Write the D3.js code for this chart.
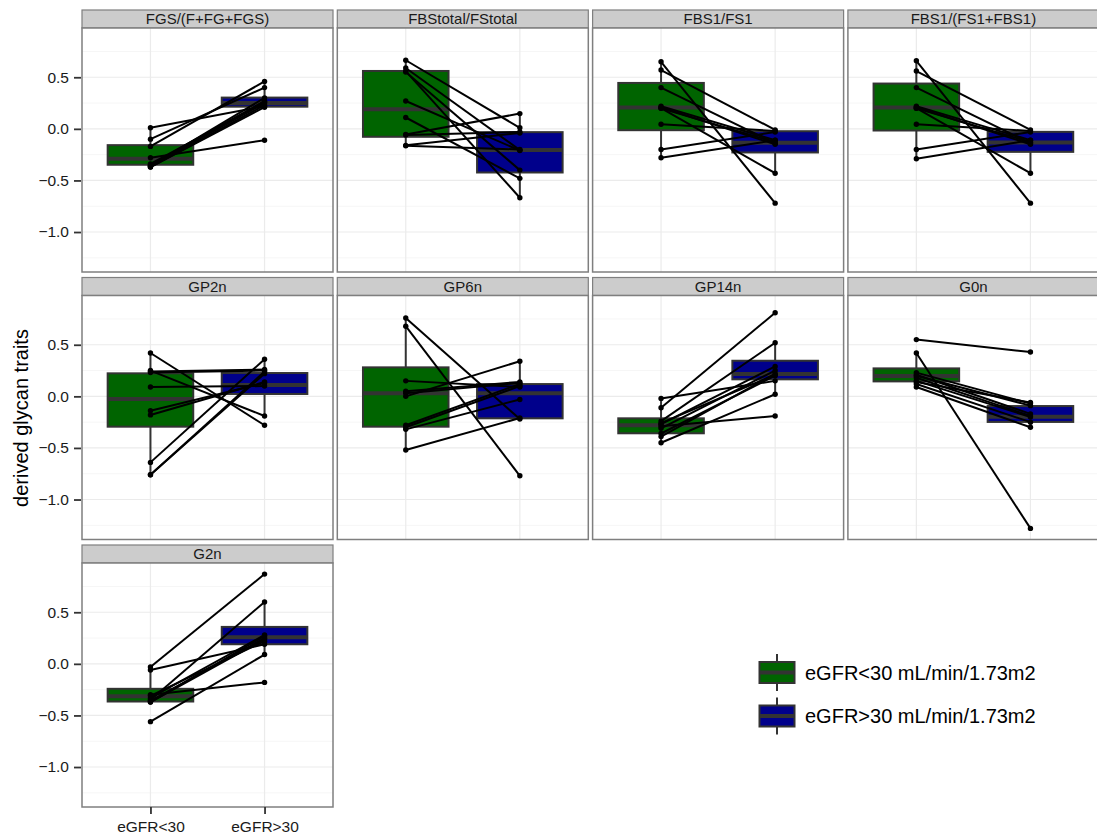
<!DOCTYPE html>
<meta charset="utf-8">

<!-- Load d3.js -->
<script src="https://cdn.jsdelivr.net/npm/d3@7"></script>

<style>
  body { margin: 0; background: #fff; }
  text { font-family: "Liberation Sans", Arial, Helvetica, sans-serif; }
</style>

<!-- Create a div where the graph will take place -->
<div id="my_dataviz"></div>

<script>

// facet names, groups, legend
var traits = ["FGS/(F+FG+FGS)", "FBStotal/FStotal", "FBS1/FS1", "FBS1/(FS1+FBS1)",
              "GP2n", "GP6n", "GP14n", "G0n", "G2n"];
var groups = ["eGFR<30", "eGFR>30"];
var legendLabels = ["eGFR<30 mL/min/1.73m2", "eGFR>30 mL/min/1.73m2"];
var groupColors = ["#006400", "#00008b"];
var yTicks = [-1.0, -0.5, 0.0, 0.5];
var yMinorTicks = [-1.25, -0.75, -0.25, 0.25, 0.75];
var yTitle = "derived glycan traits";

// paired values, one row per trait, one entry per patient
var lowValues = [
  [0.01, -0.10, -0.17, -0.28, -0.35, -0.36, -0.37, -0.37, -0.36, -0.34],
  [0.665, 0.59, 0.56, 0.55, 0.27, 0.11, -0.055, -0.16, -0.165, -0.06],
  [0.65, 0.57, 0.40, 0.22, 0.20, 0.21, 0.045, -0.20, -0.28, 0.20],
  [0.66, 0.56, 0.40, 0.22, 0.20, 0.21, 0.045, -0.20, -0.29, 0.20],
  [0.42, 0.25, 0.23, 0.09, -0.14, -0.18, -0.64, -0.76, -0.76, 0.24],
  [0.76, 0.68, 0.15, 0.05, 0.00, -0.28, -0.32, -0.52, -0.30, 0.03],
  [-0.02, -0.11, -0.24, -0.29, -0.27, -0.31, -0.39, -0.45, -0.36, -0.26],
  [0.55, 0.42, 0.23, 0.20, 0.18, 0.15, 0.12, 0.09, 0.21, 0.14],
  [-0.03, -0.06, -0.30, -0.35, -0.56, -0.37, -0.36, -0.31, -0.37, -0.33]
];
var highValues = [
  [0.22, 0.40, 0.46, -0.11, 0.27, 0.25, 0.21, 0.23, 0.30, 0.26],
  [0.01, -0.206, -0.668, -0.40, -0.21, -0.48, 0.148, -0.04, -0.20, -0.03],
  [-0.72, -0.01, -0.14, -0.11, -0.43, -0.15, -0.02, -0.03, -0.11, -0.13],
  [-0.72, -0.01, -0.14, -0.11, -0.43, -0.15, -0.02, -0.03, -0.11, -0.13],
  [-0.28, -0.19, 0.25, 0.10, 0.13, 0.14, 0.36, 0.22, 0.24, 0.26],
  [-0.22, -0.77, 0.09, 0.14, 0.34, 0.12, -0.03, -0.21, 0.10, 0.13],
  [0.15, 0.81, 0.52, -0.19, 0.29, 0.25, 0.22, 0.02, 0.20, 0.21],
  [0.43, -1.28, -0.07, -0.09, -0.19, -0.20, -0.25, -0.30, -0.17, -0.06],
  [0.87, 0.19, -0.18, 0.60, 0.09, 0.27, 0.25, 0.22, 0.24, 0.28]
];

// box stats: [lower whisker, q1, median, q3, upper whisker]
var lowBox = [
  [-0.368, -0.348, -0.29, -0.158, 0.013],
  [-0.158, -0.077, 0.19, 0.561, 0.665],
  [-0.277, -0.013, 0.206, 0.445, 0.652],
  [-0.29, -0.016, 0.206, 0.439, 0.658],
  [-0.761, -0.294, -0.026, 0.223, 0.416],
  [-0.519, -0.294, 0.029, 0.281, 0.758],
  [-0.455, -0.358, -0.281, -0.213, -0.016],
  [0.087, 0.145, 0.197, 0.271, 0.416],
  [-0.368, -0.365, -0.313, -0.242, -0.029]
];
var highBox = [
  [0.21, 0.215, 0.25, 0.303, 0.465],
  [-0.668, -0.423, -0.206, -0.032, 0.148],
  [-0.426, -0.229, -0.135, -0.023, -0.013],
  [-0.432, -0.223, -0.132, -0.029, -0.013],
  [-0.187, 0.023, 0.11, 0.226, 0.355],
  [-0.219, -0.213, 0.029, 0.119, 0.335],
  [0.023, 0.165, 0.216, 0.345, 0.523],
  [-0.3, -0.248, -0.197, -0.094, -0.065],
  [0.09, 0.19, 0.258, 0.358, 0.6]
];

// set the dimensions of the facets
var width = 1097, height = 837;
var plotLeft = 82, plotTop = 10;
var panelW = 251, colStep = 255.3;
var stripH = 18, plotH = 244, rowStep = 267.5;

var svg = d3.select("#my_dataviz")
  .append("svg")
    .attr("width", width)
    .attr("height", height);

// shared scales (ggplot style 5% expansion)
var all = d3.merge([d3.merge(lowValues), d3.merge(highValues)]);
var ext = d3.extent(all);
var pad = (ext[1] - ext[0]) * 0.05;
var y = d3.scaleLinear()
  .domain([ext[0] - pad, ext[1] + pad])
  .range([plotH, 0]);
var x = d3.scalePoint()
  .domain(groups)
  .range([0, panelW])
  .padding(0.6);
var boxWidth = x.step() * 0.75;

traits.forEach(function(name, i) {
  var col = i % 4, row = Math.floor(i / 4);
  var g = svg.append("g")
    .attr("transform", "translate(" + (plotLeft + col * colStep) + "," + (plotTop + row * rowStep) + ")");

  // strip
  g.append("rect")
    .attr("width", panelW)
    .attr("height", stripH)
    .attr("fill", "#cccccc")
    .attr("stroke", "#7f7f7f")
    .attr("stroke-width", 1.2);
  g.append("text")
    .attr("x", panelW / 2)
    .attr("y", stripH / 2)
    .attr("dy", "0.36em")
    .attr("text-anchor", "middle")
    .attr("font-size", "15px")
    .attr("fill", "#1a1a1a")
    .text(name);

  var p = g.append("g").attr("transform", "translate(0," + stripH + ")");
  p.append("rect")
    .attr("width", panelW)
    .attr("height", plotH)
    .attr("fill", "white");

  // grid
  p.selectAll("minor")
    .data(yMinorTicks)
    .enter()
    .append("line")
      .attr("x1", 0).attr("x2", panelW)
      .attr("y1", d => y(d)).attr("y2", d => y(d))
      .attr("stroke", "#f6f6f6")
      .attr("stroke-width", 1);
  p.selectAll("major")
    .data(yTicks)
    .enter()
    .append("line")
      .attr("x1", 0).attr("x2", panelW)
      .attr("y1", d => y(d)).attr("y2", d => y(d))
      .attr("stroke", "#ebebeb")
      .attr("stroke-width", 1.2);
  p.selectAll("vmajor")
    .data(groups)
    .enter()
    .append("line")
      .attr("x1", d => x(d)).attr("x2", d => x(d))
      .attr("y1", 0).attr("y2", plotH)
      .attr("stroke", "#ebebeb")
      .attr("stroke-width", 1.2);

  // boxes
  var boxes = [lowBox[i], highBox[i]];
  boxes.forEach(function(s, j) {
    var cx = x(groups[j]);
    p.append("line")
      .attr("x1", cx).attr("x2", cx)
      .attr("y1", y(s[0])).attr("y2", y(s[4]))
      .attr("stroke", "#333333")
      .attr("stroke-width", 2);
    p.append("rect")
      .attr("x", cx - boxWidth / 2)
      .attr("y", y(s[3]))
      .attr("width", boxWidth)
      .attr("height", y(s[1]) - y(s[3]))
      .attr("fill", groupColors[j])
      .attr("stroke", "#333333")
      .attr("stroke-width", 2);
    p.append("line")
      .attr("x1", cx - boxWidth / 2).attr("x2", cx + boxWidth / 2)
      .attr("y1", y(s[2])).attr("y2", y(s[2]))
      .attr("stroke", "#333333")
      .attr("stroke-width", 4);
  });

  // paired lines
  var pairs = lowValues[i].map(function(v, k) { return [v, highValues[i][k]]; });
  p.selectAll("pairs")
    .data(pairs)
    .enter()
    .append("line")
      .attr("x1", x(groups[0]))
      .attr("x2", x(groups[1]))
      .attr("y1", d => y(d[0]))
      .attr("y2", d => y(d[1]))
      .attr("stroke", "black")
      .attr("stroke-width", 2);
  p.selectAll("ptsLow")
    .data(lowValues[i])
    .enter()
    .append("circle")
      .attr("cx", x(groups[0]))
      .attr("cy", d => y(d))
      .attr("r", 2.7)
      .attr("fill", "black");
  p.selectAll("ptsHigh")
    .data(highValues[i])
    .enter()
    .append("circle")
      .attr("cx", x(groups[1]))
      .attr("cy", d => y(d))
      .attr("r", 2.7)
      .attr("fill", "black");

  // border
  p.append("rect")
    .attr("width", panelW)
    .attr("height", plotH)
    .attr("fill", "none")
    .attr("stroke", "#7f7f7f")
    .attr("stroke-width", 1.5);

  // y axis on first column
  if (col === 0) {
    var ax = p.append("g")
      .call(d3.axisLeft(y).tickValues(yTicks).tickSize(7).tickPadding(6).tickFormat(d3.format(".1f")));
    ax.select(".domain").remove();
    ax.selectAll("line").attr("stroke", "#333333").attr("stroke-width", 1.8).attr("transform", "translate(-1,0)");
    ax.selectAll("text").attr("font-size", "15.5px").attr("fill", "#1a1a1a").attr("font-family", null);
  }
  // x axis only under the last facet
  if (i === traits.length - 1) {
    var bx = p.append("g")
      .attr("transform", "translate(0," + plotH + ")")
      .call(d3.axisBottom(x).tickSize(7).tickPadding(7));
    bx.select(".domain").remove();
    bx.selectAll("line").attr("stroke", "#333333").attr("stroke-width", 1.8);
    bx.selectAll("text").attr("font-size", "15.5px").attr("fill", "#1a1a1a").attr("font-family", null);
  }
});

// y axis title
svg.append("text")
  .attr("transform", "translate(28,418) rotate(-90)")
  .attr("text-anchor", "middle")
  .attr("font-size", "20px")
  .attr("fill", "black")
  .text(yTitle);

// legend
var legend = svg.selectAll("legend")
  .data(legendLabels)
  .enter()
  .append("g")
    .attr("transform", function(d, i) { return "translate(777," + (672.5 + i * 43.5) + ")"; });
legend.append("line")
  .attr("y1", -18.5).attr("y2", 18.5)
  .attr("stroke", "#333333")
  .attr("stroke-width", 2);
legend.append("rect")
  .attr("x", -17.5).attr("y", -10.5)
  .attr("width", 35).attr("height", 21)
  .attr("fill", (d, i) => groupColors[i])
  .attr("stroke", "#333333")
  .attr("stroke-width", 2);
legend.append("line")
  .attr("x1", -17.5).attr("x2", 17.5)
  .attr("stroke", "#333333")
  .attr("stroke-width", 4);
legend.append("text")
  .attr("x", 28)
  .attr("dy", "0.36em")
  .attr("font-size", "20px")
  .attr("fill", "black")
  .text(d => d);

</script>
